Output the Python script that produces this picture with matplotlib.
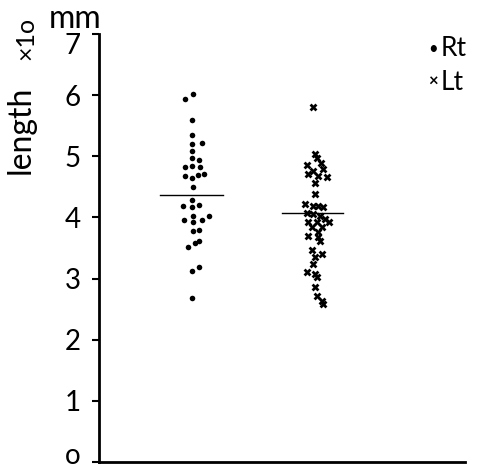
import numpy as np
import matplotlib
matplotlib.use('Agg')
import matplotlib.pyplot as plt
import matplotlib.transforms as mtransforms

plt.rcParams['font.family'] = ['Lato', 'DejaVu Sans']

# Rt values (x10 mm) and horizontal spread (pixels from the group centre)
rt_vals = [6.02, 5.94, 5.60, 5.35, 5.20, 5.22, 5.08, 4.98, 4.94, 4.82, 4.84, 4.82,
           4.67, 4.65, 4.69, 4.71, 4.49, 4.29, 4.18, 4.17, 4.21, 3.96, 4.03, 3.95,
           4.03, 3.93, 3.77, 3.79, 3.62, 3.58, 3.51, 3.19, 3.13, 2.69]
rt_jit = [1, -7, 0, 0, 0, 10, 0, 0, 7, -7, 0, 8, -7, 0, 6, 12, 1, 0, -9, 0, 7, -8,
          1, 10, 17, 1, 1, 7, 7, 3, -4, 7, 0, 0]

lt_vals = [5.80, 5.04, 4.97, 4.89, 4.80, 4.66, 4.86, 4.71, 4.76, 4.68, 4.57, 4.38,
           4.22, 4.19, 4.19, 4.17, 4.08, 4.06, 4.03, 3.97, 3.92, 3.92, 3.92, 3.84,
           3.84, 3.76, 3.70, 3.68, 3.62, 3.46, 3.40, 3.35, 3.24, 3.10, 3.07, 3.02,
           2.86, 2.72, 2.64, 2.58]
lt_jit = [-4, -2, 0, 4, 6, 10, -10, -9, -4, 1, -2, -2, -12, -4, 1, 6, -10, -4, 3,
          8, 12, -9, 0, -5, 5, 1, -9, 1, 3, -5, 5, -2, -4, -10, -2, 0, -2, 0, 5, 6]

rt_mean = 4.37
lt_mean = 4.07

ppu = 125.0  # pixels per x unit
fig = plt.figure(figsize=(4.83, 4.67), dpi=100)
ax = fig.add_axes([99/483, 5/467, 366/483, 428/467])

ax.scatter(1 + np.array(rt_jit)/ppu, rt_vals, s=16, c='black', marker='o', lw=0)
ax.scatter(2 + np.array(lt_jit)/ppu, lt_vals, s=32, c='black', marker='X', lw=0)
ax.plot([1 - 32/ppu, 1 + 31/ppu], [rt_mean, rt_mean], color='black', lw=1)
ax.plot([2 - 35/ppu, 2 + 26/ppu], [lt_mean, lt_mean], color='black', lw=1)

ax.set_xlim(1 - 93/ppu, 2 + 148/ppu)
ax.set_ylim(0, 7)
ax.set_yticks(range(8))
ax.set_yticklabels(['o', '1', '2', '3', '4', '5', '6', '7'], fontsize=20)
ax.set_xticks([])
for s in ['top', 'right']:
    ax.spines[s].set_visible(False)
ax.spines['left'].set_linewidth(2)
ax.spines['bottom'].set_linewidth(2)
ax.tick_params(axis='y', direction='out', length=5, width=1.5, pad=8)
# the old-style zero sits a little higher, the 7 a little lower
labs = ax.get_yticklabels()
labs[0].set_transform(labs[0].get_transform() + mtransforms.ScaledTranslation(0, 9/100, fig.dpi_scale_trans))
labs[7].set_transform(labs[7].get_transform() + mtransforms.ScaledTranslation(0, -10/100, fig.dpi_scale_trans))

fig.text(21/483, 1 - 130/467, 'length', rotation=90, fontsize=23, ha='center', va='center')
fig.text(26/483, 1 - 38/467, '×1o', rotation=90, fontsize=18, ha='center', va='center')
fig.text(75/483, 1 - 19/467, 'mm', fontsize=23, ha='center', va='center')

fig.text(433/483, 1 - 49/467, '•', fontsize=12, ha='center', va='center')
fig.text(441/483, 1 - 49/467, 'Rt', fontsize=19, ha='left', va='center')
fig.text(433/483, 1 - 82/467, '×', fontsize=12, fontweight='bold', ha='center', va='center')
fig.text(441/483, 1 - 82/467, 'Lt', fontsize=19, ha='left', va='center')

plt.savefig('out.png', dpi=100)
